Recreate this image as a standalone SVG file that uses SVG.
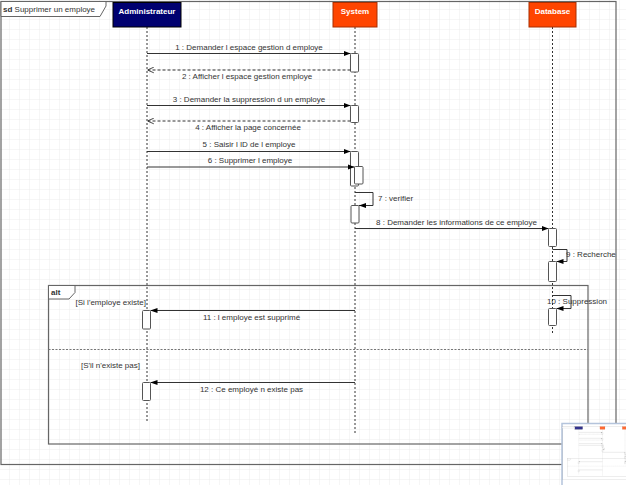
<svg xmlns="http://www.w3.org/2000/svg" xmlns:xlink="http://www.w3.org/1999/xlink" width="626" height="485" viewBox="0 0 626 485">
  <defs>
    <style>
      text { font-family: "Liberation Sans", Arial, Helvetica, sans-serif; font-size: 8px; fill: #333; }
      .head { font-weight: bold; fill: #fff; text-anchor: middle; }
      .mid { text-anchor: middle; }
      .end { text-anchor: end; }
      .frame { fill: none; stroke: #666; stroke-width: 1.2; }
      .tab { fill: #fff; stroke: #666; stroke-width: 1; }
      .life { stroke: #333; stroke-width: 1; stroke-dasharray: 2 2; fill: none; }
      .act { fill: #fff; stroke: #555; stroke-width: 1; }
      .msg { fill: none; stroke: #333; stroke-width: 1; marker-end: url(#block); }
      .ret { fill: none; stroke: #333; stroke-width: 1; stroke-dasharray: 3 2; marker-end: url(#open); }
      .sep { stroke: #777; stroke-width: 1; stroke-dasharray: 2 1.5; }
    </style>
    <pattern id="grid" width="10" height="10" patternUnits="userSpaceOnUse" x="0" y="0">
      <path d="M10,0 V10 M0,10 H10" fill="none" stroke="#ececec" stroke-width="1"/>
    </pattern>
    <marker id="block" viewBox="0 0 10 10" refX="10" refY="5" markerWidth="7" markerHeight="7" markerUnits="userSpaceOnUse" orient="auto">
      <path d="M0,1.3 L10,5 L0,8.7 Z" fill="#000"/>
    </marker>
    <marker id="open" viewBox="0 0 10 10" refX="10" refY="5" markerWidth="7" markerHeight="7" markerUnits="userSpaceOnUse" orient="auto">
      <path d="M1,1 L10,5 L1,9" fill="none" stroke="#333" stroke-width="1.3"/>
    </marker>
  </defs>

  <!-- page background with grid -->
  <rect width="626" height="485" fill="#fff"/>
  <rect width="626" height="485" fill="url(#grid)"/>

  <!-- sequence frame -->
  <g id="frame-sd">
    <g id="frame-sd-shape">
      <rect class="frame" x="1" y="1.5" width="615" height="463"/>
      <path class="tab" d="M1,1.5 H106 V6 L100,16.5 H1 Z"/>
    </g>
    <text x="3" y="11.5"><tspan font-weight="bold">sd</tspan> Supprimer un employe</text>
  </g>

  <!-- Administrateur -->
  <g id="administrateur">
    <g id="administrateur-shape">
      <line class="life" x1="147" y1="27" x2="147" y2="423"/>
      <rect x="113" y="2.5" width="68" height="24.5" fill="#000070" stroke="#000"/>
      <rect class="act" x="142.5" y="310.5" width="8" height="18.5" rx="1"/>
      <rect class="act" x="142.5" y="382.5" width="8" height="18" rx="1"/>
    </g>
    <text class="head" x="147" y="14">Administrateur</text>
  </g>

  <!-- System -->
  <g id="system">
    <g id="system-shape">
      <line class="life" x1="355" y1="27" x2="355" y2="433"/>
      <rect x="333" y="2.5" width="44" height="24.5" fill="#ff4500" stroke="#a82e00"/>
      <rect class="act" x="350.5" y="53.5" width="8" height="18.5" rx="1"/>
      <rect class="act" x="350.5" y="105.5" width="8" height="17" rx="1"/>
      <rect class="act" x="350.5" y="151.5" width="8" height="34.5" rx="1"/>
      <rect class="act" x="354.5" y="166.5" width="8.5" height="17.5" rx="1"/>
      <rect class="act" x="351" y="205.5" width="8" height="17.5" rx="1"/>
    </g>
    <text class="head" x="355" y="14">System</text>
  </g>

  <!-- Database -->
  <g id="database">
    <g id="database-shape">
      <line class="life" x1="552.5" y1="27" x2="552.5" y2="335"/>
      <rect x="529" y="2.5" width="47" height="24.5" fill="#ff4500" stroke="#a82e00"/>
      <rect class="act" x="548.5" y="228.5" width="8" height="18" rx="1"/>
      <rect class="act" x="548.5" y="261.5" width="8" height="20" rx="1"/>
      <rect class="act" x="548.5" y="308.5" width="8" height="17" rx="1"/>
    </g>
    <text class="head" x="552.5" y="14">Database</text>
  </g>

  <!-- alt combined fragment -->
  <g id="frame-alt">
    <g id="frame-alt-shape">
      <rect class="frame" x="48.5" y="285.5" width="539.5" height="158.5"/>
      <path class="tab" d="M48.5,285.5 H75 V292.5 L69,299 H48.5 Z"/>
      <line class="sep" x1="48.5" y1="349.5" x2="588" y2="349.5"/>
    </g>
    <text x="51" y="295" font-weight="bold">alt</text>
    <text class="end" x="146" y="305">[Si l'employe existe]</text>
    <text class="end" x="140" y="368">[S'il n'existe pas]</text>
  </g>

  <!-- messages -->
  <g id="connectors">
    <path class="msg" d="M147,53.5 H350.5"/>
    <path class="ret" d="M350.5,70 H147.5"/>
    <path class="msg" d="M147,105.5 H350.5"/>
    <path class="ret" d="M350.5,121 H147.5"/>
    <path class="msg" d="M147,151.5 H350.5"/>
    <path class="msg" d="M147,167 H354.5"/>
    <path class="msg" d="M355,192.5 H373 V205.5 H359"/>
    <path class="msg" d="M355,228.5 H548.5"/>
    <path class="msg" d="M552.5,249.5 H567 V261.5 H556.5"/>
    <path class="msg" d="M552.5,295.5 H571 V308.5 H556.5"/>
    <path class="msg" d="M355,310.5 H150.5"/>
    <path class="msg" d="M355,382.5 H150.5"/>
  </g>

  <!-- message labels -->
  <g id="labels">
    <text class="mid" x="249" y="50">1 : Demander l espace gestion d employe</text>
    <text class="mid" x="247" y="79">2 : Afficher l espace gestion employe</text>
    <text class="mid" x="249" y="102">3 : Demander la suppression d un employe</text>
    <text class="mid" x="248" y="129.5">4 : Afficher la page concernée</text>
    <text class="mid" x="249" y="147">5 : Saisir l ID de l employe</text>
    <text class="mid" x="250" y="163">6 : Supprimer l employe</text>
    <text x="378" y="201">7 : verifier</text>
    <text class="mid" x="456.5" y="225">8 : Demander les informations de ce employe</text>
    <text x="566" y="257">9 : Recherche</text>
    <text x="547" y="304">10 : Suppression</text>
    <text class="mid" x="251.5" y="319.5">11 : l employe est supprimé</text>
    <text class="mid" x="251.5" y="392">12 : Ce employé n existe pas</text>
  </g>

  <!-- outline overview panel -->
  <g id="outline">
    <rect x="562" y="423.5" width="70" height="70" fill="#fff" stroke="#b4c4dc" stroke-width="1.5"/>
    <g transform="translate(562,426.3) scale(0.114)" opacity="0.8">
      <use href="#frame-sd-shape"/>
      <use href="#administrateur-shape"/>
      <use href="#system-shape"/>
      <use href="#database-shape"/>
      <use href="#frame-alt-shape"/>
      <use href="#connectors"/>
    </g>
  </g>
</svg>
